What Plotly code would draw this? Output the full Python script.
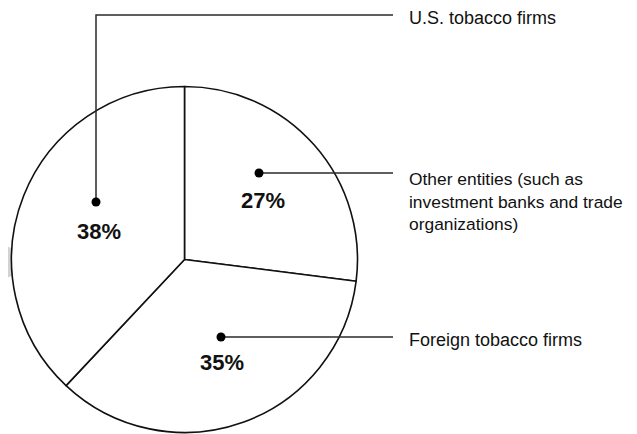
import plotly.graph_objects as go

# Data
categories = ["Other entities (such as<br>investment banks and trade<br>organizations)",
              "Foreign tobacco firms",
              "U.S. tobacco firms"]
shares = [27, 35, 38]

W, H = 637, 434
OFF = 8  # page body margin offset


def px(x):
    return (x - OFF) / W


def py(y):
    return 1 - (y - OFF) / H


cx, cy, r = 184.5, 259.5, 173

fig = go.Figure()
fig.add_trace(go.Pie(
    labels=categories,
    values=shares,
    sort=False,
    direction="clockwise",
    rotation=0,
    textinfo="none",
    hoverinfo="label+percent",
    marker=dict(colors=["white"] * len(shares), line=dict(color="#111111", width=1.6)),
    domain=dict(x=[px(cx - r), px(cx + r)], y=[py(cy + r), py(cy - r)]),
    showlegend=False,
))

# Callout placement: dot position, percent-label position, label y position, label size
dots = [(259, 173), (221, 337), (96, 202)]
pct_pos = [(263, 200), (222, 362), (99, 231)]
label_y = [202, 340, 18]
label_size = [17.4, 18, 18]

shapes = []
# gray arrow-like mark at left edge (behind pie)
shapes.append(dict(type="path", xref="paper", yref="paper", layer="below",
                   path=f"M {px(-2)},{py(243)} L {px(45)},{py(261)} L {px(-2)},{py(282)} Z",
                   fillcolor="#d3d3d3", line=dict(width=0)))

line_style = dict(color="#2a2a2a", width=1.5)
for i, (dx, dy) in enumerate(dots):
    if i == 2:
        shapes.append(dict(type="path", xref="paper", yref="paper",
                           path=f"M {px(dx)},{py(dy)} L {px(dx)},{py(15)} L {px(393)},{py(15)}",
                           line=line_style))
    else:
        shapes.append(dict(type="line", xref="paper", yref="paper",
                           x0=px(dx), y0=py(dy), x1=px(393), y1=py(dy), line=line_style))
    rr = 4.5
    shapes.append(dict(type="circle", xref="paper", yref="paper",
                       x0=px(dx - rr), x1=px(dx + rr), y0=py(dy + rr), y1=py(dy - rr),
                       fillcolor="black", line=dict(color="black", width=0)))

annotations = []
for i, v in enumerate(shares):
    x, y = pct_pos[i]
    annotations.append(dict(xref="paper", yref="paper", x=px(x), y=py(y),
                            text=f"<b>{v}%</b>", showarrow=False,
                            xanchor="center", yanchor="middle",
                            font=dict(family="Liberation Sans, Arial, sans-serif", size=22, color="#111111")))
    annotations.append(dict(xref="paper", yref="paper", x=px(408), y=py(label_y[i]),
                            text=categories[i], showarrow=False, align="left",
                            xanchor="left", yanchor="middle", borderpad=0,
                            font=dict(family="Liberation Sans, Arial, sans-serif",
                                      size=label_size[i], color="#111111")))

fig.update_layout(
    width=W, height=H,
    margin=dict(l=0, r=0, t=0, b=0),
    paper_bgcolor="white", plot_bgcolor="white",
    shapes=shapes, annotations=annotations,
)

fig.write_html("out.html")
